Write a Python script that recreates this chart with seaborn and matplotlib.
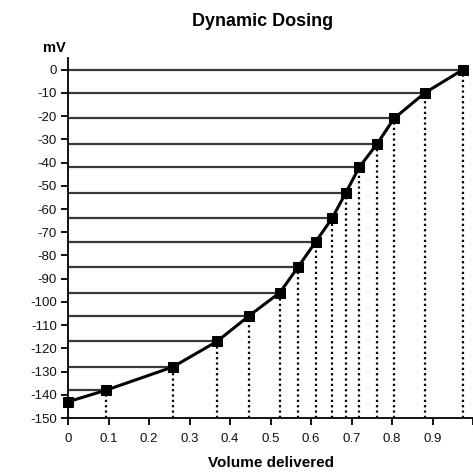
import matplotlib
matplotlib.use("Agg")
import matplotlib.pyplot as plt
import seaborn as sns
import pandas as pd

volume = [0.0, 0.094, 0.259, 0.368, 0.447, 0.523, 0.568, 0.612, 0.652, 0.686, 0.719, 0.763, 0.805, 0.881, 0.975]
mv = [-143, -138, -128, -117, -106, -96, -85, -74, -64, -53, -42, -32, -21, -10, 0]
xticks = [0, 0.1, 0.2, 0.3, 0.4, 0.5, 0.6, 0.7, 0.8, 0.9, 1]
xticklabels = ["0", "0.1", "0.2", "0.3", "0.4", "0.5", "0.6", "0.7", "0.8", "0.9", ""]
yticks = list(range(0, -151, -10))

sns.set_theme(style="white")
plt.rcParams['font.family'] = ['Liberation Sans', 'DejaVu Sans']
plt.rcParams['axes.unicode_minus'] = False
plt.rcParams['text.color'] = 'black'
plt.rcParams['axes.labelcolor'] = 'black'

df = pd.DataFrame({"Volume delivered": volume, "mV": mv})

fig = plt.figure(figsize=(4.73, 4.76), dpi=100)
ax = fig.add_axes([0.1438, 0.1218, 0.8562, 0.7562])

# horizontal guide lines from y-axis to each point
ax.hlines(df["mV"], 0, df["Volume delivered"], colors="#3a3a3a", linewidth=1.6, zorder=1)
# vertical dotted lines from x-axis up to each point
ax.vlines(df["Volume delivered"], -150, df["mV"], colors="black", linewidth=1.6,
          linestyles=(0, (1.0, 1.4)), zorder=1)

sns.lineplot(data=df, x="Volume delivered", y="mV", ax=ax, color="black",
             linewidth=2.2, marker="s", markersize=6.5, markeredgecolor="black",
             zorder=3, clip_on=False)

ax.set_xlim(0, 1.0)
ax.set_ylim(-150, 5)
ax.set_xticks(xticks)
ax.set_xticklabels(xticklabels)
ax.set_yticks(yticks)

for s in ["top", "right"]:
    ax.spines[s].set_visible(False)
for s in ["left", "bottom"]:
    ax.spines[s].set_color("black")
    ax.spines[s].set_linewidth(1.3)

ax.tick_params(axis="both", which="major", direction="out", length=5, width=1.3,
               color="black", labelsize=9.5, labelcolor="#111111", pad=3)
ax.tick_params(axis="x", pad=6)
ax.tick_params(left=True, bottom=True)

ax.set_xlabel("Volume delivered", fontsize=11, fontweight="bold", labelpad=8, color="black")
ax.set_ylabel("")
fig.text(0.09, 0.9, "mV", fontsize=10.5, fontweight="bold", ha="left", va="center", color="black")
fig.text(0.555, 0.955, "Dynamic Dosing", fontsize=13, fontweight="bold", ha="center", va="center", color="black")

fig.savefig("out.png", dpi=100)
